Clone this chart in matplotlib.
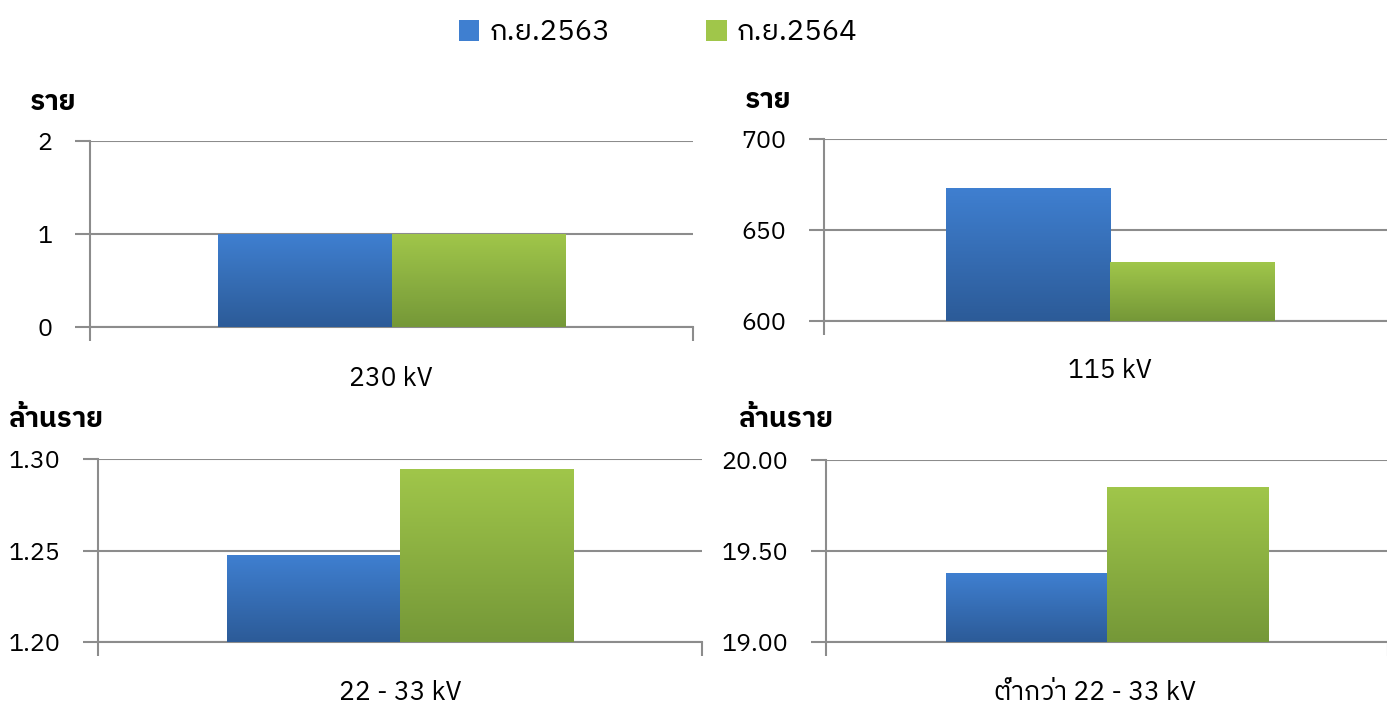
import numpy as np
import matplotlib
matplotlib.use('Agg')
import matplotlib.pyplot as plt
from matplotlib.patches import Patch
from matplotlib.ticker import FormatStrFormatter

plt.rcParams['font.family'] = ['IBM Plex Sans Thai', 'Noto Sans Thai', 'DejaVu Sans']

series = ['ก.ย.2563', 'ก.ย.2564']
categories = ['230 kV', '115 kV', '22 - 33 kV', 'ต่ำกว่า 22 - 33 kV']
units = ['ราย', 'ราย', 'ล้านราย', 'ล้านราย']
v2563 = [1, 673, 1.247, 19.374]
v2564 = [1, 632, 1.294, 19.85]
ylims = [(0, 2), (600, 700), (1.20, 1.30), (19.0, 20.0)]
yticks = [[0, 1, 2], [600, 650, 700], [1.20, 1.25, 1.30], [19.0, 19.5, 20.0]]
yfmt = ['%d', '%d', '%.2f', '%.2f']

blue = ('#3f7fd0', '#2c5b98')
green = ('#a0c64a', '#759838')
grid_c = '#8c8c8c'

W, H = 1387, 706
# axes boxes in pixels: left, right, top, bottom
boxes = [(90, 693, 141, 327), (824, 1396, 139, 321),
         (98, 702, 459, 642), (826, 1388, 460, 642)]
unit_pos = [(30, 102), (745, 100), (8, 420), (738, 420)]
cat_pos = [(391, 378), (1110, 371), (400, 692), (1095, 692)]

fig = plt.figure(figsize=(W / 100, H / 100), dpi=100)

def grad_bar(ax, x, w, y0, y1, cols):
    g = np.linspace(0, 1, 100).reshape(-1, 1)
    c0 = np.array(matplotlib.colors.to_rgb(cols[0]))
    c1 = np.array(matplotlib.colors.to_rgb(cols[1]))
    img = c0 + (c1 - c0) * g[..., None]
    ax.imshow(img, extent=(x - w / 2, x + w / 2, y0, y1), origin='upper',
              aspect='auto', zorder=3, interpolation='bilinear')

bw = 0.287
for i in range(4):
    l, r, t, b = boxes[i]
    ax = fig.add_axes([l / W, 1 - b / H, (r - l) / W, (b - t) / H])
    y0, y1 = ylims[i]
    grad_bar(ax, -bw / 2, bw, y0, v2563[i], blue)
    grad_bar(ax, bw / 2, bw, y0, v2564[i], green)
    ax.set_xlim(-0.5, 0.5)
    ax.set_ylim(y0, y1)
    ax.set_yticks(yticks[i])
    ax.yaxis.set_major_formatter(FormatStrFormatter(yfmt[i]))
    ax.set_xticks([-0.5, 0.5])
    ax.set_xticklabels([])
    for s in ['top', 'right']:
        ax.spines[s].set_visible(False)
    for s in ['left', 'bottom']:
        ax.spines[s].set_color(grid_c)
        ax.spines[s].set_linewidth(1.5)
    ax.grid(axis='y', color=grid_c, linewidth=1.5, zorder=1)
    ax.set_axisbelow(True)
    ax.tick_params(axis='y', length=11, width=1.5, color=grid_c, pad=16,
                   labelsize=18, labelcolor='black')
    ax.tick_params(axis='x', length=10, width=1.5, color=grid_c)
    ax.patch.set_alpha(0)
    cx, cy = cat_pos[i]
    fig.text(cx / W, 1 - cy / H, categories[i],
             ha='center', va='center', fontsize=19)
    ux, uy = unit_pos[i]
    fig.text(ux / W, 1 - uy / H, units[i], ha='left', va='center',
             fontsize=20, fontweight='bold')

handles = [Patch(facecolor=blue[0], edgecolor='none'),
           Patch(facecolor=green[0], edgecolor='none')]
fig.legend(handles, series, loc='center', bbox_to_anchor=(658 / W, 1 - 33 / H),
           ncol=2, frameon=False, fontsize=21, handlelength=0.7, handleheight=0.7,
           handletextpad=0.35, columnspacing=3.3)

fig.savefig('out.png', dpi=100)
